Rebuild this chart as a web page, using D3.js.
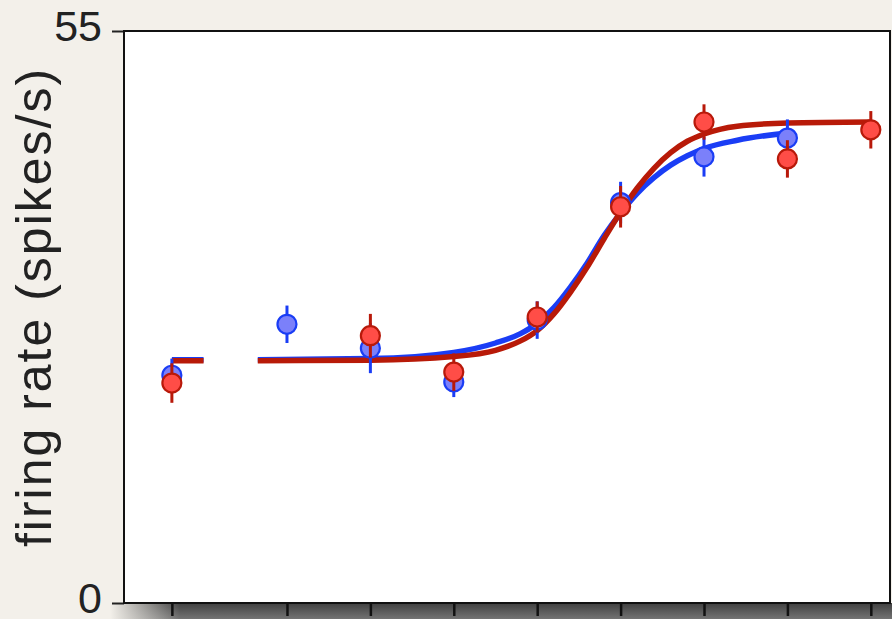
<!DOCTYPE html>
<html lang="en">
<head>
<meta charset="utf-8">
<title>firing rate</title>
<script src="https://d3js.org/d3.v7.min.js"></script>
<style>
  body { margin: 0; background: #f3f0ea; }
  svg { display: block; }
</style>
</head>
<body>
<script>
// stimulus levels on a log axis; the zero level sits left of the axis break
const xLevels = [-1.38, 0, 1, 2, 3, 4, 5, 6, 7];

// mean firing rate and error (spikes/s), null where there is no point
const blueMean = [21.9, 26.8, 24.5, 21.25, 27.2, 38.5, 42.9, 44.7, null];
const blueErr  = [1.6, 1.8, 2.4, 1.45, 1.8, 2.0, 1.9, 1.8, null];
const redMean  = [21.15, null, 25.7, 22.2, 27.5, 38.1, 46.25, 42.7, 45.5];
const redErr   = [1.9, null, 2.1, 1.8, 1.5, 2.0, 1.7, 1.8, 1.8];

// fitted curves
const fitX    = [-0.35, 1, 2, 2.5, 2.8, 3.0, 3.2, 3.4, 3.6, 3.8, 4.0, 4.2, 4.4, 4.6, 4.8, 5.0, 5.4, 6.0, 7.0];
const redFit  = [23.3, 23.35, 23.7, 24.3, 25.2, 26.2, 27.8, 29.9, 32.3, 35.0, 37.6, 39.9, 41.8, 43.3, 44.4, 45.1, 45.85, 46.15, 46.25];
const blueFit = [23.4, 23.5, 24.1, 25.0, 25.9, 26.9, 28.4, 30.4, 32.7, 35.3, 37.5, 39.4, 40.9, 42.1, 43.0, 43.7, 44.5, 45.2, null];
const zeroSeg = [-1.38, -1.0];   // short fit stub at the zero level

const yTicks = [0, 55];

const W = 892, H = 619;
const box = {left: 124, right: 890, top: 31, bottom: 603};

const svg = d3.select("body").append("svg")
    .attr("width", W)
    .attr("height", H);

const x = d3.scaleLinear().domain([-1.954, 7.23]).range([box.left, box.right]);
const y = d3.scaleLinear().domain([0, 55]).range([box.bottom, box.top]);

// background
svg.append("rect").attr("width", W).attr("height", H).attr("fill", "#f3f0ea");

// drop shadow under the plot box
let defs = svg.append("defs");
let vg = defs.append("linearGradient").attr("id", "shadeV")
    .attr("x1", 0).attr("y1", 0).attr("x2", 0).attr("y2", 1);
vg.append("stop").attr("offset", "0%").attr("stop-color", "#404040");
vg.append("stop").attr("offset", "100%").attr("stop-color", "#737373");
let hg = defs.append("linearGradient").attr("id", "shadeH")
    .attr("x1", 0).attr("y1", 0).attr("x2", 1).attr("y2", 0);
hg.append("stop").attr("offset", "0%").attr("stop-color", "#f3f0ea").attr("stop-opacity", 1);
hg.append("stop").attr("offset", "100%").attr("stop-color", "#f3f0ea").attr("stop-opacity", 0);

svg.append("rect")
    .attr("x", 110).attr("y", box.bottom)
    .attr("width", W - 110).attr("height", H - box.bottom)
    .attr("fill", "url(#shadeV)");
svg.append("rect")
    .attr("x", 110).attr("y", box.bottom)
    .attr("width", 70).attr("height", H - box.bottom)
    .attr("fill", "url(#shadeH)");

// plot area
svg.append("rect")
    .attr("x", box.left).attr("y", box.top)
    .attr("width", box.right - box.left).attr("height", box.bottom - box.top)
    .attr("fill", "#fff");

// axes
let yAxis = svg.append("g")
    .attr("transform", "translate(" + box.left + ",0)")
    .call(d3.axisLeft(y).tickValues(yTicks).tickSize(12).tickPadding(10));
yAxis.select(".domain").remove();
yAxis.selectAll(".tick line").attr("stroke", "#222").attr("stroke-width", 2);
yAxis.selectAll(".tick text")
    .attr("fill", "#222")
    .attr("dy", "0.22em")
    .style("font", "43px 'Liberation Sans', Arial, sans-serif");

let xAxis = svg.append("g")
    .attr("transform", "translate(0," + box.bottom + ")")
    .call(d3.axisBottom(x).tickValues(xLevels).tickSize(13).tickFormat(""));
xAxis.select(".domain").remove();
xAxis.selectAll(".tick line").attr("stroke", "#111").attr("stroke-width", 2.5);

// frame
svg.append("rect")
    .attr("x", box.left).attr("y", box.top)
    .attr("width", box.right - box.left).attr("height", box.bottom - box.top)
    .attr("fill", "none")
    .attr("stroke", "#111")
    .attr("stroke-width", 2);

// y label
svg.append("text")
    .attr("transform", "translate(51,307) rotate(-90)")
    .attr("text-anchor", "middle")
    .attr("fill", "#222")
    .attr("letter-spacing", "2px")
    .style("font", "50px 'Liberation Sans', Arial, sans-serif")
    .text("firing rate (spikes/s)");

// fits
const line = d3.line()
    .defined(d => d[1] !== null)
    .x(d => x(d[0]))
    .y(d => y(d[1]))
    .curve(d3.curveMonotoneX);

const series = [
    {name: "blue", mean: blueMean, err: blueErr, fit: blueFit,
     line: "#1a3df5", fill: "#7b80fa", stroke: "#1a3df5"},
    {name: "red", mean: redMean, err: redErr, fit: redFit,
     line: "#b81a08", fill: "#ff4d47", stroke: "#b8190a"}
];

series.forEach(function(s) {
    let pts = fitX.map((u, i) => [u, s.fit[i]]);
    svg.append("path")
        .datum(pts)
        .attr("d", line)
        .attr("fill", "none")
        .attr("stroke", s.line)
        .attr("stroke-width", 5.5);
    svg.append("path")
        .datum(zeroSeg.map(u => [u, s.fit[0]]))
        .attr("d", line)
        .attr("fill", "none")
        .attr("stroke", s.line)
        .attr("stroke-width", 5.5);
});

series.forEach(function(s) {
    let pts = xLevels.map((u, i) => ({u: u, m: s.mean[i], e: s.err[i]}))
        .filter(d => d.m !== null);
    let g = svg.append("g").attr("class", "pts-" + s.name);
    g.selectAll("line")
        .data(pts)
        .enter()
        .append("line")
        .attr("x1", d => x(d.u)).attr("x2", d => x(d.u))
        .attr("y1", d => y(d.m - d.e)).attr("y2", d => y(d.m + d.e))
        .attr("stroke", s.stroke)
        .attr("stroke-width", 3);
    g.selectAll("circle")
        .data(pts)
        .enter()
        .append("circle")
        .attr("cx", d => x(d.u))
        .attr("cy", d => y(d.m))
        .attr("r", 9.5)
        .attr("fill", s.fill)
        .attr("stroke", s.stroke)
        .attr("stroke-width", 2.2);
});
</script>
</body>
</html>
